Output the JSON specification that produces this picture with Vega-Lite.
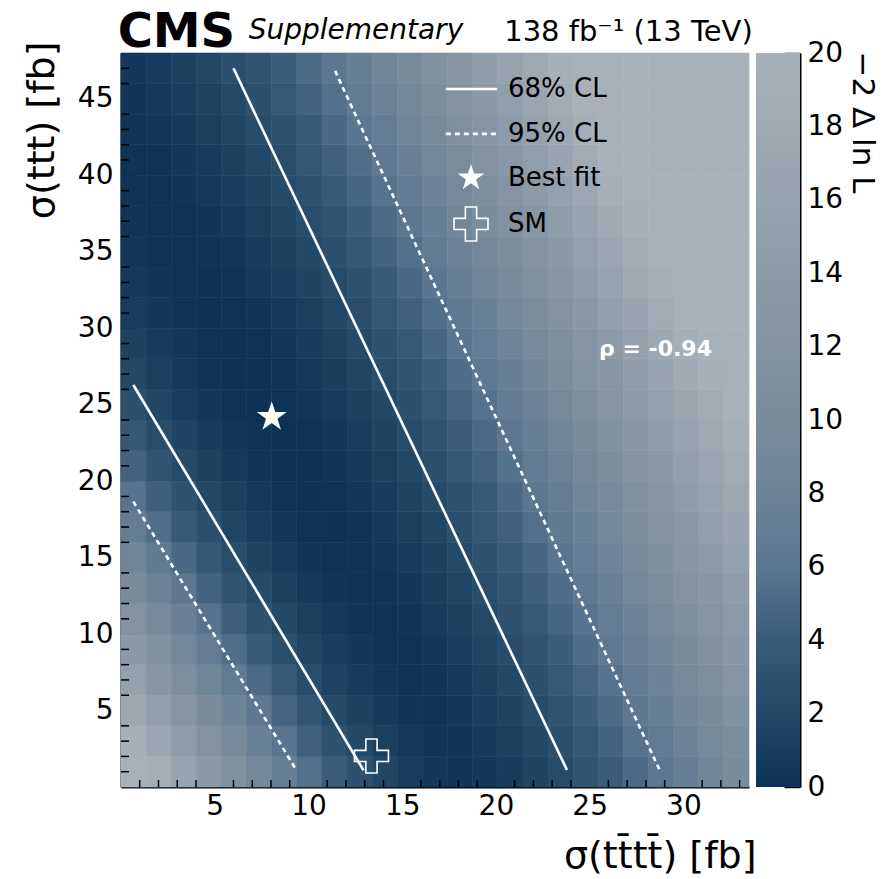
{
  "$schema": "https://vega.github.io/schema/vega-lite/v6.json",
  "background": "white",
  "autosize": {"type": "pad"},
  "padding": {"left": 22, "top": 8, "right": 20, "bottom": 0},
  "spacing": -3,
  "config": {
    "font": "DejaVu Sans",
    "view": {"stroke": null},
    "axis": {"labelFont": "DejaVu Sans", "titleFont": "DejaVu Sans", "labelColor": "black", "titleColor": "black", "tickColor": "black", "domainColor": "black", "grid": false, "titleFontWeight": "normal", "labelOverlap": false, "labelFlush": false}
  },
  "datasets": {
    "grid": [
      {"y":0,"y2":2,"c00":21.9,"c01":19.0,"c02":16.2,"c03":13.6,"c04":11.3,"c05":9.1,"c06":7.2,"c07":5.5,"c08":4.1,"c09":2.8,"c10":1.8,"c11":1.0,"c12":0.5,"c13":0.3,"c14":0.5,"c15":0.9,"c16":1.6,"c17":2.3,"c18":3.2,"c19":4.1,"c20":5.1,"c21":6.2,"c22":7.4,"c23":8.6,"c24":9.9},
      {"y":2,"y2":4,"c00":19.7,"c01":16.9,"c02":14.2,"c03":11.8,"c04":9.6,"c05":7.7,"c06":5.9,"c07":4.4,"c08":3.1,"c09":2.0,"c10":1.2,"c11":0.6,"c12":0.3,"c13":0.3,"c14":0.7,"c15":1.2,"c16":1.9,"c17":2.7,"c18":3.6,"c19":4.6,"c20":5.7,"c21":6.8,"c22":8.0,"c23":9.3,"c24":10.6},
      {"y":4,"y2":6,"c00":17.5,"c01":14.8,"c02":12.4,"c03":10.1,"c04":8.1,"c05":6.3,"c06":4.7,"c07":3.4,"c08":2.2,"c09":1.4,"c10":0.7,"c11":0.3,"c12":0.2,"c13":0.5,"c14":1.0,"c15":1.6,"c16":2.4,"c17":3.2,"c18":4.2,"c19":5.2,"c20":6.3,"c21":7.5,"c22":8.7,"c23":10.0,"c24":11.4},
      {"y":6,"y2":8,"c00":15.5,"c01":13.0,"c02":10.7,"c03":8.6,"c04":6.7,"c05":5.1,"c06":3.7,"c07":2.5,"c08":1.5,"c09":0.8,"c10":0.4,"c11":0.2,"c12":0.3,"c13":0.7,"c14":1.3,"c15":2.0,"c16":2.8,"c17":3.7,"c18":4.7,"c19":5.8,"c20":6.9,"c21":8.1,"c22":9.4,"c23":10.8,"c24":12.2},
      {"y":8,"y2":10,"c00":13.6,"c01":11.2,"c02":9.0,"c03":7.1,"c04":5.4,"c05":4.0,"c06":2.7,"c07":1.7,"c08":1.0,"c09":0.5,"c10":0.2,"c11":0.2,"c12":0.5,"c13":1.0,"c14":1.7,"c15":2.4,"c16":3.3,"c17":4.2,"c18":5.3,"c19":6.4,"c20":7.6,"c21":8.8,"c22":10.1,"c23":11.5,"c24":13.0},
      {"y":10,"y2":12,"c00":11.8,"c01":9.5,"c02":7.6,"c03":5.8,"c04":4.3,"c05":3.0,"c06":2.0,"c07":1.2,"c08":0.6,"c09":0.2,"c10":0.1,"c11":0.3,"c12":0.8,"c13":1.3,"c14":2.1,"c15":2.9,"c16":3.8,"c17":4.8,"c18":5.8,"c19":7.0,"c20":8.2,"c21":9.5,"c22":10.9,"c23":12.3,"c24":13.8},
      {"y":12,"y2":14,"c00":10.1,"c01":8.0,"c02":6.2,"c03":4.6,"c04":3.3,"c05":2.2,"c06":1.3,"c07":0.7,"c08":0.3,"c09":0.1,"c10":0.2,"c11":0.5,"c12":1.1,"c13":1.7,"c14":2.5,"c15":3.4,"c16":4.3,"c17":5.3,"c18":6.5,"c19":7.7,"c20":8.9,"c21":10.3,"c22":11.7,"c23":13.1,"c24":14.6},
      {"y":14,"y2":16,"c00":8.5,"c01":6.6,"c02":5.0,"c03":3.6,"c04":2.5,"c05":1.5,"c06":0.8,"c07":0.3,"c08":0.1,"c09":0.1,"c10":0.4,"c11":0.8,"c12":1.4,"c13":2.1,"c14":3.0,"c15":3.9,"c16":4.9,"c17":5.9,"c18":7.1,"c19":8.3,"c20":9.6,"c21":11.0,"c22":12.5,"c23":14.0,"c24":15.5},
      {"y":16,"y2":18,"c00":7.1,"c01":5.4,"c02":3.9,"c03":2.7,"c04":1.7,"c05":1.0,"c06":0.4,"c07":0.1,"c08":0.0,"c09":0.2,"c10":0.6,"c11":1.2,"c12":1.8,"c13":2.6,"c14":3.5,"c15":4.4,"c16":5.5,"c17":6.6,"c18":7.8,"c19":9.1,"c20":10.4,"c21":11.8,"c22":13.3,"c23":14.9,"c24":16.5},
      {"y":18,"y2":20,"c00":5.8,"c01":4.3,"c02":3.0,"c03":2.0,"c04":1.2,"c05":0.6,"c06":0.2,"c07":0.0,"c08":0.1,"c09":0.4,"c10":0.9,"c11":1.5,"c12":2.2,"c13":3.1,"c14":4.0,"c15":5.0,"c16":6.1,"c17":7.2,"c18":8.5,"c19":9.8,"c20":11.2,"c21":12.7,"c22":14.2,"c23":15.8,"c24":17.4},
      {"y":20,"y2":22,"c00":4.6,"c01":3.3,"c02":2.2,"c03":1.4,"c04":0.7,"c05":0.3,"c06":0.0,"c07":0.0,"c08":0.3,"c09":0.7,"c10":1.2,"c11":1.9,"c12":2.7,"c13":3.6,"c14":4.5,"c15":5.6,"c16":6.7,"c17":7.9,"c18":9.2,"c19":10.6,"c20":12.0,"c21":13.5,"c22":15.1,"c23":16.7,"c24":18.4},
      {"y":22,"y2":24,"c00":3.6,"c01":2.5,"c02":1.6,"c03":0.9,"c04":0.4,"c05":0.1,"c06":0.0,"c07":0.2,"c08":0.5,"c09":1.0,"c10":1.6,"c11":2.3,"c12":3.2,"c13":4.1,"c14":5.1,"c15":6.2,"c16":7.4,"c17":8.6,"c18":10.0,"c19":11.4,"c20":12.9,"c21":14.4,"c22":16.0,"c23":17.7,"c24":19.4},
      {"y":24,"y2":26,"c00":2.8,"c01":1.8,"c02":1.0,"c03":0.5,"c04":0.2,"c05":0.0,"c06":0.1,"c07":0.4,"c08":0.8,"c09":1.4,"c10":2.0,"c11":2.8,"c12":3.7,"c13":4.7,"c14":5.7,"c15":6.9,"c16":8.1,"c17":9.4,"c18":10.8,"c19":12.2,"c20":13.7,"c21":15.3,"c22":17.0,"c23":18.7,"c24":20.5},
      {"y":26,"y2":28,"c00":2.0,"c01":1.2,"c02":0.6,"c03":0.2,"c04":0.0,"c05":0.0,"c06":0.2,"c07":0.6,"c08":1.1,"c09":1.7,"c10":2.5,"c11":3.3,"c12":4.2,"c13":5.3,"c14":6.4,"c15":7.5,"c16":8.8,"c17":10.2,"c18":11.6,"c19":13.1,"c20":14.6,"c21":16.3,"c22":18.0,"c23":19.8,"c24":21.6},
      {"y":28,"y2":30,"c00":1.4,"c01":0.8,"c02":0.4,"c03":0.1,"c04":0.0,"c05":0.1,"c06":0.4,"c07":0.9,"c08":1.5,"c09":2.2,"c10":3.0,"c11":3.8,"c12":4.8,"c13":5.9,"c14":7.0,"c15":8.3,"c16":9.6,"c17":11.0,"c18":12.4,"c19":14.0,"c20":15.6,"c21":17.3,"c22":19.0,"c23":20.9,"c24":22.7},
      {"y":30,"y2":32,"c00":1.0,"c01":0.5,"c02":0.2,"c03":0.0,"c04":0.1,"c05":0.3,"c06":0.7,"c07":1.2,"c08":1.9,"c09":2.6,"c10":3.5,"c11":4.4,"c12":5.4,"c13":6.5,"c14":7.7,"c15":9.0,"c16":10.4,"c17":11.8,"c18":13.3,"c19":14.9,"c20":16.6,"c21":18.3,"c22":20.1,"c23":22.0,"c24":23.9},
      {"y":32,"y2":34,"c00":0.6,"c01":0.3,"c02":0.1,"c03":0.0,"c04":0.2,"c05":0.6,"c06":1.0,"c07":1.6,"c08":2.3,"c09":3.1,"c10":4.0,"c11":5.0,"c12":6.0,"c13":7.2,"c14":8.5,"c15":9.8,"c16":11.2,"c17":12.7,"c18":14.2,"c19":15.9,"c20":17.6,"c21":19.4,"c22":21.2,"c23":23.1,"c24":25.1},
      {"y":34,"y2":36,"c00":0.4,"c01":0.1,"c02":0.1,"c03":0.2,"c04":0.4,"c05":0.9,"c06":1.4,"c07":2.0,"c08":2.8,"c09":3.6,"c10":4.6,"c11":5.6,"c12":6.7,"c13":7.9,"c14":9.2,"c15":10.6,"c16":12.0,"c17":13.6,"c18":15.2,"c19":16.9,"c20":18.6,"c21":20.5,"c22":22.4,"c23":24.3,"c24":26.4},
      {"y":36,"y2":38,"c00":0.2,"c01":0.1,"c02":0.1,"c03":0.3,"c04":0.7,"c05":1.2,"c06":1.8,"c07":2.5,"c08":3.3,"c09":4.2,"c10":5.2,"c11":6.2,"c12":7.4,"c13":8.7,"c14":10.0,"c15":11.4,"c16":12.9,"c17":14.5,"c18":16.2,"c19":17.9,"c20":19.7,"c21":21.6,"c22":23.5,"c23":25.6,"c24":27.6},
      {"y":38,"y2":40,"c00":0.1,"c01":0.1,"c02":0.3,"c03":0.6,"c04":1.0,"c05":1.5,"c06":2.2,"c07":2.9,"c08":3.8,"c09":4.8,"c10":5.8,"c11":6.9,"c12":8.1,"c13":9.4,"c14":10.8,"c15":12.3,"c16":13.8,"c17":15.5,"c18":17.2,"c19":19.0,"c20":20.8,"c21":22.7,"c22":24.7,"c23":26.8,"c24":29.0},
      {"y":40,"y2":42,"c00":0.1,"c01":0.2,"c02":0.5,"c03":0.8,"c04":1.3,"c05":1.9,"c06":2.6,"c07":3.5,"c08":4.4,"c09":5.4,"c10":6.5,"c11":7.6,"c12":8.9,"c13":10.2,"c14":11.7,"c15":13.2,"c16":14.8,"c17":16.5,"c18":18.2,"c19":20.0,"c20":21.9,"c21":23.9,"c22":26.0,"c23":28.1,"c24":30.3},
      {"y":42,"y2":44,"c00":0.2,"c01":0.4,"c02":0.7,"c03":1.2,"c04":1.7,"c05":2.4,"c06":3.1,"c07":4.0,"c08":5.0,"c09":6.0,"c10":7.1,"c11":8.4,"c12":9.7,"c13":11.1,"c14":12.6,"c15":14.1,"c16":15.8,"c17":17.5,"c18":19.3,"c19":21.2,"c20":23.1,"c21":25.2,"c22":27.3,"c23":29.5,"c24":31.7},
      {"y":44,"y2":46,"c00":0.3,"c01":0.6,"c02":1.0,"c03":1.5,"c04":2.1,"c05":2.8,"c06":3.7,"c07":4.6,"c08":5.6,"c09":6.7,"c10":7.9,"c11":9.1,"c12":10.5,"c13":12.0,"c14":13.5,"c15":15.1,"c16":16.8,"c17":18.6,"c18":20.4,"c19":22.4,"c20":24.4,"c21":26.5,"c22":28.6,"c23":30.9,"c24":33.2},
      {"y":46,"y2":48,"c00":0.5,"c01":0.9,"c02":1.3,"c03":1.9,"c04":2.6,"c05":3.3,"c06":4.2,"c07":5.2,"c08":6.2,"c09":7.4,"c10":8.6,"c11":9.9,"c12":11.3,"c13":12.8,"c14":14.4,"c15":16.1,"c16":17.8,"c17":19.7,"c18":21.6,"c19":23.6,"c20":25.6,"c21":27.8,"c22":30.0,"c23":32.3,"c24":34.6}
    ],
    "cols": [
      {"key":"c00","x":0,"x2":1.34},{"key":"c01","x":1.34,"x2":2.68},{"key":"c02","x":2.68,"x2":4.02},{"key":"c03","x":4.02,"x2":5.36},{"key":"c04","x":5.36,"x2":6.7},
      {"key":"c05","x":6.7,"x2":8.04},{"key":"c06","x":8.04,"x2":9.38},{"key":"c07","x":9.38,"x2":10.72},{"key":"c08","x":10.72,"x2":12.06},{"key":"c09","x":12.06,"x2":13.4},
      {"key":"c10","x":13.4,"x2":14.74},{"key":"c11","x":14.74,"x2":16.08},{"key":"c12","x":16.08,"x2":17.42},{"key":"c13","x":17.42,"x2":18.76},{"key":"c14","x":18.76,"x2":20.1},
      {"key":"c15","x":20.1,"x2":21.44},{"key":"c16","x":21.44,"x2":22.78},{"key":"c17","x":22.78,"x2":24.12},{"key":"c18","x":24.12,"x2":25.46},{"key":"c19","x":25.46,"x2":26.8},
      {"key":"c20","x":26.8,"x2":28.14},{"key":"c21","x":28.14,"x2":29.48},{"key":"c22","x":29.48,"x2":30.82},{"key":"c23","x":30.82,"x2":32.16},{"key":"c24","x":32.16,"x2":33.5}
    ],
    "lines": [
      {"g":"u68","cl":"68","x":6.0,"y":47.0},{"g":"u68","cl":"68","x":23.79,"y":1.11},
      {"g":"l68","cl":"68","x":0.66,"y":26.29},{"g":"l68","cl":"68","x":12.94,"y":1.09},
      {"g":"u95","cl":"95","x":11.42,"y":46.83},{"g":"u95","cl":"95","x":28.74,"y":1.09},
      {"g":"l95","cl":"95","x":0.66,"y":18.66},{"g":"l95","cl":"95","x":9.36,"y":1.09},
      {"g":"leg68","cl":"68","x":17.33,"y":45.65},{"g":"leg68","cl":"68","x":20.05,"y":45.65},
      {"g":"leg95","cl":"95","x":17.33,"y":42.71},{"g":"leg95","cl":"95","x":20.05,"y":42.71}
    ],
    "xminor": [{"x":1,"y":0},{"x":2,"y":0},{"x":3,"y":0},{"x":4,"y":0},{"x":6,"y":0},{"x":7,"y":0},{"x":8,"y":0},{"x":9,"y":0},{"x":11,"y":0},{"x":12,"y":0},{"x":13,"y":0},{"x":14,"y":0},{"x":16,"y":0},{"x":17,"y":0},{"x":18,"y":0},{"x":19,"y":0},{"x":21,"y":0},{"x":22,"y":0},{"x":23,"y":0},{"x":24,"y":0},{"x":26,"y":0},{"x":27,"y":0},{"x":28,"y":0},{"x":29,"y":0},{"x":31,"y":0},{"x":32,"y":0},{"x":33,"y":0}],
    "yminor": [{"x":0,"y":1},{"x":0,"y":2},{"x":0,"y":3},{"x":0,"y":4},{"x":0,"y":6},{"x":0,"y":7},{"x":0,"y":8},{"x":0,"y":9},{"x":0,"y":11},{"x":0,"y":12},{"x":0,"y":13},{"x":0,"y":14},{"x":0,"y":16},{"x":0,"y":17},{"x":0,"y":18},{"x":0,"y":19},{"x":0,"y":21},{"x":0,"y":22},{"x":0,"y":23},{"x":0,"y":24},{"x":0,"y":26},{"x":0,"y":27},{"x":0,"y":28},{"x":0,"y":29},{"x":0,"y":31},{"x":0,"y":32},{"x":0,"y":33},{"x":0,"y":34},{"x":0,"y":36},{"x":0,"y":37},{"x":0,"y":38},{"x":0,"y":39},{"x":0,"y":41},{"x":0,"y":42},{"x":0,"y":43},{"x":0,"y":44},{"x":0,"y":46},{"x":0,"y":47}]
  },
  "hconcat": [
    {
      "width": 628,
      "height": 734,
      "encoding": {
        "x": {"field": "x", "type": "quantitative",
          "scale": {"domain": [0, 33.5], "nice": false, "zero": false},
          "axis": {"title": "σ(tt̄tt̄) [fb]", "values": [5, 10, 15, 20, 25, 30],
            "tickSize": -13, "tickWidth": 1.5, "domainWidth": 2,
            "labelFontSize": 28, "labelPadding": 18, "labelBaseline": "top",
            "titleFontSize": 38, "titleAlign": "right", "titleAnchor": "end", "titleX": 635, "titleY": 80, "titleBaseline": "alphabetic"}},
        "y": {"field": "y", "type": "quantitative",
          "scale": {"domain": [0, 48], "nice": false, "zero": false},
          "axis": {"title": "σ(ttt) [fb]", "values": [5, 10, 15, 20, 25, 30, 35, 40, 45],
            "tickSize": -16, "tickWidth": 1.5, "domainWidth": 2,
            "labelFontSize": 28, "labelPadding": 24,
            "titleFontSize": 38, "titleAngle": -90, "titleAlign": "right", "titleX": -68, "titleY": -12, "titleBaseline": "alphabetic"}}
      },
      "layer": [
        {
          "data": {"name": "grid"},
          "transform": [
            {"fold": ["c00","c01","c02","c03","c04","c05","c06","c07","c08","c09","c10","c11","c12","c13","c14","c15","c16","c17","c18","c19","c20","c21","c22","c23","c24"]},
            {"lookup": "key", "from": {"data": {"name": "cols"}, "key": "key", "fields": ["x", "x2"]}}
          ],
          "mark": {"type": "rect", "strokeWidth": 0.6},
          "encoding": {
            "x2": {"field": "x2"},
            "y2": {"field": "y2"},
            "fill": {"field": "value", "type": "quantitative", "legend": null,
              "scale": {"type": "linear", "domain": [0,2,4,6,8,10,12,14,16,18,20], "range": ["#0c3355","#244868","#3a5b78","#5b7690","#6c8397","#798c9c","#8393a2","#8c9ba8","#95a3ae","#9faab4","#a8b1ba"], "interpolate": "rgb", "clamp": true}},
            "stroke": {"field": "value", "type": "quantitative", "legend": null,
              "scale": {"type": "linear", "domain": [0,2,4,6,8,10,12,14,16,18,20], "range": ["#0c3355","#244868","#3a5b78","#5b7690","#6c8397","#798c9c","#8393a2","#8c9ba8","#95a3ae","#9faab4","#a8b1ba"], "interpolate": "rgb", "clamp": true}}
          }
        },
        {
          "data": {"name": "xminor"},
          "mark": {"type": "tick", "orient": "vertical", "size": 7, "thickness": 1.5, "color": "black", "opacity": 1, "yOffset": -3.5}
        },
        {
          "data": {"name": "yminor"},
          "mark": {"type": "tick", "orient": "horizontal", "size": 8, "thickness": 1.5, "color": "black", "opacity": 1, "xOffset": 4}
        },
        {
          "data": {"name": "lines"},
          "transform": [{"filter": "datum.cl === '68'"}],
          "mark": {"type": "line", "color": "white", "strokeWidth": 2.6},
          "encoding": {"detail": {"field": "g"}}
        },
        {
          "data": {"name": "lines"},
          "transform": [{"filter": "datum.cl === '95'"}],
          "mark": {"type": "line", "color": "white", "strokeWidth": 2.6, "strokeDash": [5, 4]},
          "encoding": {"detail": {"field": "g"}}
        },
        {
          "data": {"values": [{"x": 8.04, "y": 24.2}]},
          "mark": {"type": "point", "shape": "M0,-1L0.2245,-0.309L0.951,-0.309L0.3633,0.118L0.588,0.809L0,0.382L-0.588,0.809L-0.3633,0.118L-0.951,-0.309L-0.2245,-0.309Z", "filled": true, "color": "white", "opacity": 1, "size": 990}
        },
        {
          "data": {"values": [{"x": 18.67, "y": 39.83}]},
          "mark": {"type": "point", "shape": "M0,-1L0.2245,-0.309L0.951,-0.309L0.3633,0.118L0.588,0.809L0,0.382L-0.588,0.809L-0.3633,0.118L-0.951,-0.309L-0.2245,-0.309Z", "filled": true, "color": "white", "opacity": 1, "size": 790}
        },
        {
          "data": {"values": [{"x": 13.36, "y": 2.03}, {"x": 18.67, "y": 36.82}]},
          "mark": {"type": "point", "shape": "M-0.33,-1H0.33V-0.33H1V0.33H0.33V1H-0.33V0.33H-1V-0.33H-0.33Z", "filled": false, "stroke": "white", "strokeWidth": 1.6, "opacity": 1, "size": 1156}
        },
        {
          "data": {"values": [
            {"x": 20.64, "y": 45.65, "t": "68% CL"},
            {"x": 20.64, "y": 42.71, "t": "95% CL"},
            {"x": 20.64, "y": 39.83, "t": "Best fit"},
            {"x": 20.64, "y": 36.82, "t": "SM"}
          ]},
          "mark": {"type": "text", "align": "left", "baseline": "middle", "fontSize": 26, "color": "black", "font": "DejaVu Sans"},
          "encoding": {"text": {"field": "t"}}
        },
        {
          "data": {"values": [{"x": 25.5, "y": 28.65, "t": "ρ = -0.94"}]},
          "mark": {"type": "text", "align": "left", "baseline": "middle", "fontSize": 22, "fontWeight": "bold", "color": "white", "font": "DejaVu Sans"},
          "encoding": {"text": {"field": "t"}}
        },
        {
          "data": {"values": [{"x": -0.18, "y": 48.4, "t": "CMS"}]},
          "mark": {"type": "text", "align": "left", "baseline": "alphabetic", "fontSize": 48, "fontWeight": "bold", "color": "black", "font": "DejaVu Sans"},
          "encoding": {"text": {"field": "t"}}
        },
        {
          "data": {"values": [{"x": 6.81, "y": 48.9, "t": "Supplementary"}]},
          "mark": {"type": "text", "align": "left", "baseline": "alphabetic", "fontSize": 28, "fontStyle": "italic", "color": "black", "font": "DejaVu Sans"},
          "encoding": {"text": {"field": "t"}}
        },
        {
          "data": {"values": [{"x": 33.7, "y": 48.8, "t": "138 fb⁻¹ (13 TeV)"}]},
          "mark": {"type": "text", "align": "right", "baseline": "alphabetic", "fontSize": 29, "color": "black", "font": "DejaVu Sans"},
          "encoding": {"text": {"field": "t"}}
        }
      ]
    },
    {
      "width": 44,
      "height": 734,
      "data": {"values": [{"a": 0, "b": 1, "lo": 0, "hi": 20}]},
      "mark": {"type": "rect", "fill": {"gradient": "linear", "x1": 0, "y1": 1, "x2": 0, "y2": 0,
        "stops": [
          {"offset": 0, "color": "#0c3355"}, {"offset": 0.1, "color": "#244868"}, {"offset": 0.2, "color": "#3a5b78"},
          {"offset": 0.3, "color": "#5b7690"}, {"offset": 0.4, "color": "#6c8397"}, {"offset": 0.5, "color": "#798c9c"},
          {"offset": 0.6, "color": "#8393a2"}, {"offset": 0.7, "color": "#8c9ba8"}, {"offset": 0.8, "color": "#95a3ae"},
          {"offset": 0.9, "color": "#9faab4"}, {"offset": 1, "color": "#a8b1ba"}]}},
      "encoding": {
        "x": {"field": "a", "type": "quantitative", "scale": {"domain": [0, 1], "nice": false, "zero": false}, "axis": null},
        "x2": {"field": "b"},
        "y": {"field": "lo", "type": "quantitative", "scale": {"domain": [0, 20], "nice": false, "zero": false},
          "axis": {"orient": "right", "values": [0,2,4,6,8,10,12,14,16,18,20], "tickSize": -16, "tickWidth": 1.5, "domainWidth": 2,
            "labelFontSize": 28, "labelPadding": 23, "labelAlign": "left", "labelBaseline": "middle",
            "title": "−2 Δ ln L", "titleFontSize": 31, "titleAngle": 90, "titleAlign": "left", "titleBaseline": "alphabetic", "titleX": 52, "titleY": -2}},
        "y2": {"field": "hi"}
      }
    }
  ]
}
